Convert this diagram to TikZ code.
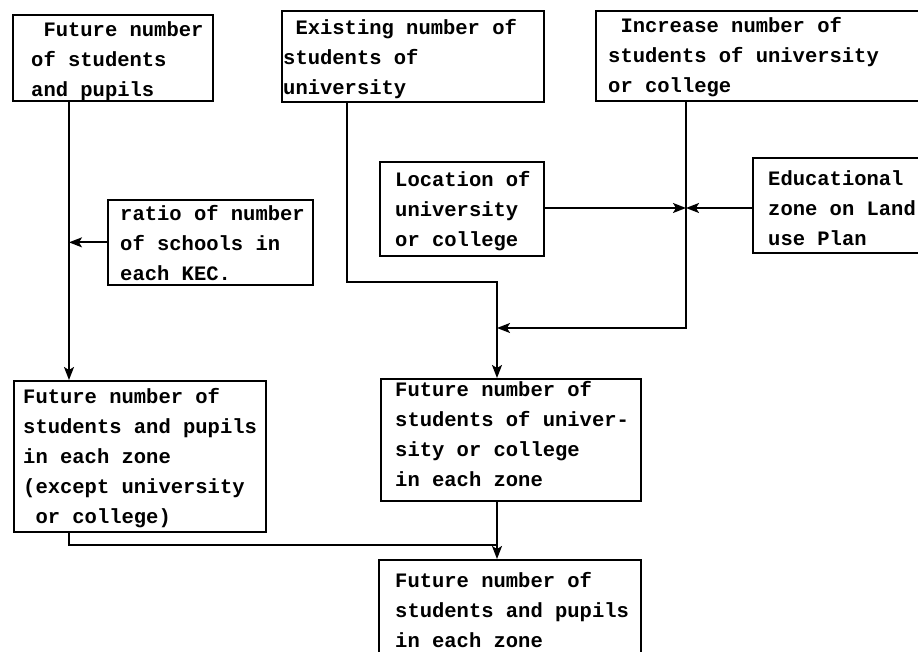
\documentclass[tikz,border=0pt]{standalone}
\usepackage{fontspec}
\newfontfamily\tw{Liberation Mono}
\usetikzlibrary{arrows.meta}
\tikzset{
  box/.style={draw, line width=1.7pt, inner sep=0pt, rectangle},
  txt/.style={font=\tw\bfseries\fontsize{20.5}{30}\selectfont, align=left, inner sep=0pt, anchor=west},
  arr/.style={-{Stealth[length=13pt,width=10pt,inset=3pt]}, line width=1.7pt},
  conn/.style={line width=1.7pt},
}
% name, x, y, W, H, left pad, text dy (down), text
\newcommand\bx[8]{%
  \node[box, minimum width=#4pt, minimum height=#5pt, anchor=north west] (#1) at (#2,#3) {};
  \node[txt] (#1-t) at ([xshift=#6pt, yshift=-#7pt]#1.west) {#8};}
\begin{document}
\begin{tikzpicture}[x=1pt,y=-1pt]
  \useasboundingbox (0,0) rectangle (918,652);
  \fill[white] (0,0) rectangle (918,652);

  \bx{b1}{12}{14}{200}{86}{19}{3}{~Future number\\of students\\and pupils}
  \bx{b2}{281}{10}{262}{91}{2}{3}{~Existing number of\\students of\\university}
  \bx{b3}{595}{10}{345}{90}{13}{1}{~Increase number of\\students of university\\or college}
  \bx{loc}{379}{161}{164}{94}{16}{2}{Location of\\university\\or college}
  \bx{edu}{752}{157}{200}{95}{16}{3}{Educational\\zone on Land\\use Plan}
  \bx{ratio}{107}{199}{205}{85}{13}{1}{ratio of number\\of schools in\\each KEC.}
  \bx{b7}{13}{380}{252}{151}{10}{2}{Future number of\\students and pupils\\in each zone\\(except university\\~or college)}
  \bx{b8}{380}{378}{260}{122}{15}{-6}{Future number of\\students of univer-\\sity or college\\in each zone}
  \bx{b9}{378}{559}{262}{100}{17}{0}{Future number of\\students and pupils\\in each zone}

  \coordinate (c1) at (69,0);
  \coordinate (k1) at (347,282);
  \coordinate (k2) at (497,282);
  \coordinate (j) at (686,208);
  \coordinate (k3) at (686,328);
  \coordinate (k4) at (497,545);

  \draw[arr] (b1.south -| c1) -- (b7.north -| c1);
  \draw[arr] (ratio.west) -- (ratio.west -| c1);
  \draw[arr] (b2.south -| k1) -- (k1) -- (k2) -- (b8.north -| k2);
  \draw[arr] (b3.south -| j) -- (k3) -- (k3 -| k2);
  \draw[arr] (loc.east |- j) -- (j);
  \draw[arr] (edu.west |- j) -- (j);
  \draw[arr] (b8.south -| k2) -- (b9.north -| k2);
  \draw[conn] (b7.south -| c1) |- (k4);
\end{tikzpicture}
\end{document}
